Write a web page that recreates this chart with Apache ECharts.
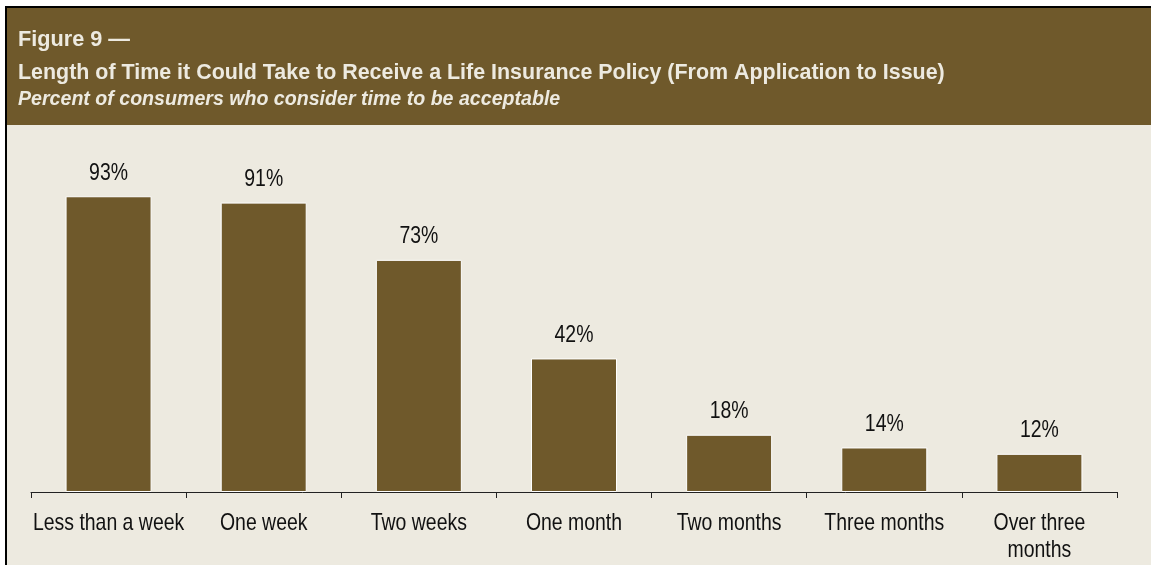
<!DOCTYPE html>
<html>
<head>
<meta charset="utf-8">
<script src="https://cdn.jsdelivr.net/npm/echarts@6/dist/echarts.min.js"></script>
<style>
  html, body { margin: 0; padding: 0; background: #ffffff; }
  #chart { width: 1151px; height: 565px; }
</style>
</head>
<body>
<div id="chart"></div>
<script>
// Survey categories and share of consumers finding each wait acceptable
const categories = ['Less than a week', 'One week', 'Two weeks', 'One month', 'Two months', 'Three months', 'Over three months'];
const acceptable = [93, 91, 73, 42, 18, 14, 12];

const figureLabel = 'Figure 9 —';
const titleText = 'Length of Time it Could Take to Receive a Life Insurance Policy (From Application to Issue)';
const subtitleText = 'Percent of consumers who consider time to be acceptable';

const BROWN = '#6f592b';
const CREAM = '#edeae0';
const INK = '#111111';
const FONT = '"Liberation Sans", Arial, sans-serif';

// Narrow-set chart lettering: regular face squeezed horizontally
const LABEL_SIZE = 24;
const NARROW = 0.81;
const LABEL_FONT = LABEL_SIZE + 'px ' + FONT;

// Word-wrap a category name so each line fits under its bar slot
const measureCtx = document.createElement('canvas').getContext('2d');
measureCtx.font = LABEL_FONT;
function wrapLabel(text, maxWidth) {
  const words = text.split(' ');
  const lines = [];
  let line = '';
  for (const w of words) {
    const trial = line ? line + ' ' + w : w;
    if (line && measureCtx.measureText(trial).width * NARROW > maxWidth) {
      lines.push(line);
      line = w;
    } else {
      line = trial;
    }
  }
  if (line) lines.push(line);
  return lines.join('\n');
}

const chart = echarts.init(document.getElementById('chart'), null, { renderer: 'canvas' });

chart.setOption({
  backgroundColor: '#ffffff',
  animation: false,
  tooltip: { show: false },
  graphic: [
    // panel background
    { type: 'rect', z: -10, shape: { x: 7, y: 8, width: 1144, height: 557 }, style: { fill: CREAM } },
    // header band
    { type: 'rect', z: -9, shape: { x: 7, y: 8, width: 1144, height: 117 }, style: { fill: BROWN } },
    // frame lines
    { type: 'rect', z: -8, shape: { x: 5, y: 6, width: 1146, height: 2 }, style: { fill: '#000' } },
    { type: 'rect', z: -8, shape: { x: 5, y: 6, width: 2, height: 559 }, style: { fill: '#000' } },
    // header texts
    { type: 'text', x: 18, y: 40, scaleX: 0.985, style: { text: figureLabel, fill: CREAM, font: 'bold 22px ' + FONT, verticalAlign: 'middle' } },
    { type: 'text', x: 18, y: 73, scaleX: 0.974, style: { text: titleText, fill: CREAM, font: 'bold 22px ' + FONT, verticalAlign: 'middle' } },
    { type: 'text', x: 18, y: 99.5, scaleX: 0.933, style: { text: subtitleText, fill: CREAM, font: 'italic bold 21px ' + FONT, verticalAlign: 'middle' } }
  ],
  grid: { left: 31, right: 34, top: 174, bottom: 73, containLabel: false },
  xAxis: {
    type: 'category',
    data: categories,
    axisLine: { lineStyle: { color: '#222', width: 1 } },
    axisTick: { show: true, inside: false, length: 6, alignWithLabel: false, lineStyle: { color: '#222' } },
    axisLabel: { show: false }
  },
  yAxis: {
    type: 'value', min: 0, max: 100, show: false,
    splitLine: { show: false }
  },
  series: [
    {
      type: 'bar',
      data: acceptable,
      barWidth: 86,
      silent: true,
      itemStyle: { color: BROWN, borderColor: '#ffffff', borderWidth: 1 }
    },
    {
      // percentage above each bar
      type: 'custom',
      silent: true,
      clip: false,
      z: 5,
      encode: { x: 0, y: 1 },
      data: acceptable.map((v, i) => [i, v]),
      renderItem: (params, api) => {
        const p = api.coord([api.value(0), api.value(1)]);
        return {
          type: 'text',
          x: p[0],
          y: p[1] - 23,
          scaleX: NARROW,
          style: {
            text: api.value(1) + '%',
            font: LABEL_FONT,
            fill: INK,
            align: 'center',
            verticalAlign: 'middle'
          }
        };
      }
    },
    {
      // category names under the axis
      type: 'custom',
      silent: true,
      clip: false,
      z: 5,
      encode: { x: 0, y: 1 },
      data: categories.map((c, i) => [i, 0]),
      renderItem: (params, api) => {
        const idx = api.value(0);
        const p = api.coord([idx, 0]);
        return {
          type: 'text',
          x: p[0],
          y: p[1] + 17.5,
          scaleX: NARROW,
          style: {
            text: wrapLabel(categories[idx], 155),
            font: LABEL_FONT,
            fill: INK,
            align: 'center',
            verticalAlign: 'top',
            lineHeight: 27
          }
        };
      }
    }
  ]
});
</script>
</body>
</html>
